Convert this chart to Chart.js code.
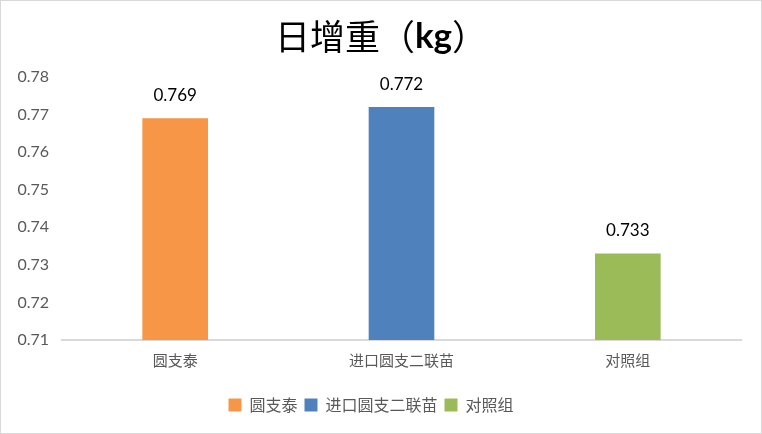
<!DOCTYPE html>
<html>
<head>
<meta charset="utf-8">
<script src="https://cdn.jsdelivr.net/npm/chart.js@4"></script>
<style>
  html, body { margin: 0; padding: 0; background: #fff; }
  #wrap { width: 762px; height: 434px; box-sizing: border-box; border: 1px solid #d9d9d9; }
  canvas { display: block; }
</style>
</head>
<body>
<div id="wrap"><canvas id="gainChart" width="760" height="432"></canvas></div>
<script>
// chart data
const categories = ["圆支泰", "进口圆支二联苗", "对照组"];
const gainValues = [0.769, 0.772, 0.733];
const barColors = ["#F79646", "#4F81BD", "#9BBB59"];
const yTicks = [0.71, 0.72, 0.73, 0.74, 0.75, 0.76, 0.77, 0.78];

const numFont = "Lato, 'Noto Sans CJK SC', sans-serif";

// title with bold "kg" part
const titlePlugin = {
  id: "mixedTitle",
  afterDraw(chart) {
    const ctx = chart.ctx;
    const parts = [
      { t: "日增重（", f: "35px 'Noto Sans CJK SC', sans-serif" },
      { t: "kg", f: "bold 35px Lato, sans-serif" },
      { t: "）", f: "35px 'Noto Sans CJK SC', sans-serif" }
    ];
    ctx.save();
    let total = 0;
    parts.forEach(p => { ctx.font = p.f; p.w = ctx.measureText(p.t).width; total += p.w; });
    let x = chart.width / 2 - total / 2;
    ctx.fillStyle = "#000";
    ctx.textBaseline = "middle";
    ctx.textAlign = "left";
    parts.forEach(p => { ctx.font = p.f; ctx.fillText(p.t, x, 36); x += p.w; });
    ctx.restore();
  }
};

// value labels above bars
const valueLabels = {
  id: "valueLabels",
  afterDatasetsDraw(chart) {
    const ctx = chart.ctx;
    const meta = chart.getDatasetMeta(0);
    ctx.save();
    ctx.font = "17px " + numFont;
    ctx.fillStyle = "#000";
    ctx.textAlign = "center";
    ctx.textBaseline = "middle";
    meta.data.forEach((bar, i) => {
      ctx.fillText(gainValues[i].toFixed(3), bar.x, bar.y - 23);
    });
    ctx.restore();
  }
};

new Chart(document.getElementById("gainChart"), {
  type: "bar",
  data: {
    labels: categories,
    datasets: [{
      label: "日增重",
      data: gainValues,
      backgroundColor: barColors,
      borderWidth: 0,
      categoryPercentage: 1,
      barPercentage: 0.29
    }]
  },
  options: {
    responsive: false,
    animation: false,
    layout: { padding: { top: 76, right: 20, bottom: 10, left: 0 } },
    plugins: {
      title: { display: false },
      tooltip: { enabled: false },
      legend: {
        position: "bottom",
        labels: {
          boxWidth: 13,
          boxHeight: 13,
          padding: 7,
          color: "#595959",
          font: { size: 16, family: "'Noto Sans CJK SC', sans-serif" },
          generateLabels: () => categories.map((c, i) => ({
            text: c,
            fillStyle: barColors[i],
            strokeStyle: barColors[i],
            lineWidth: 0,
            index: i,
            fontColor: "#595959"
          }))
        }
      }
    },
    scales: {
      x: {
        grid: { display: false },
        border: { display: true, color: "#d9d9d9", width: 2 },
        ticks: {
          color: "#595959",
          padding: 3,
          font: { size: 15, family: "'Noto Sans CJK SC', sans-serif" }
        },
        afterFit: s => { s.height = 50; }
      },
      y: {
        min: 0.71,
        max: 0.78,
        grid: { display: false, drawTicks: false },
        border: { display: false },
        afterBuildTicks: s => { s.ticks = yTicks.map(v => ({ value: v })); },
        ticks: {
          color: "#595959",
          padding: 13,
          font: { size: 16, family: numFont },
          callback: v => v.toFixed(2)
        },
        afterFit: s => { s.width = 61; }
      }
    }
  },
  plugins: [titlePlugin, valueLabels]
});
</script>
</body>
</html>
